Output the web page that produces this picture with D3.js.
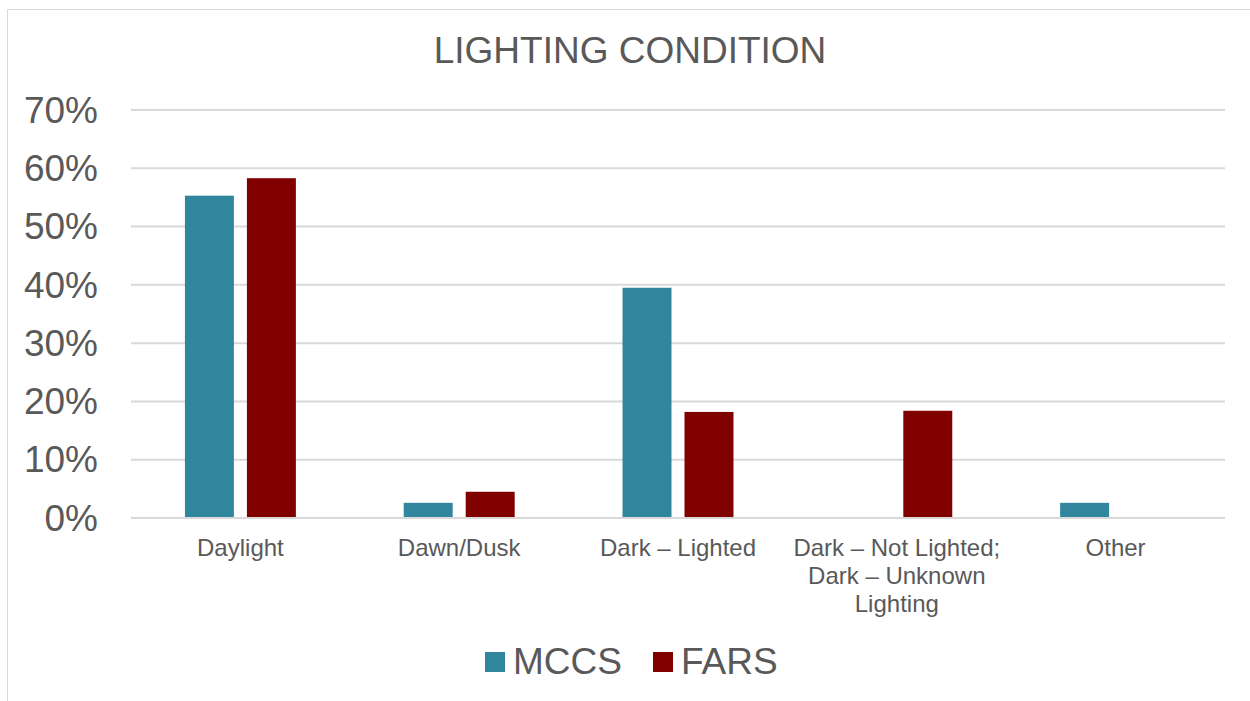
<!DOCTYPE html>
<html>
<head>
<meta charset="utf-8">
<script src="https://cdn.jsdelivr.net/npm/d3@7"></script>
<style>
  body { margin: 0; background: #fff; }
  text { font-family: "Liberation Sans", Arial, sans-serif; fill: #595959; }
</style>
</head>
<body>
<div id="chart"></div>
<script>
const categories = ["Daylight", "Dawn/Dusk", "Dark – Lighted", "Dark – Not Lighted;|Dark – Unknown|Lighting", "Other"];
const seriesNames = ["MCCS", "FARS"];
const mccsValues = [55.3, 2.6, 39.5, 0, 2.6];
const farsValues = [58.3, 4.5, 18.2, 18.4, 0];
const yTicks = [0, 10, 20, 30, 40, 50, 60, 70];
const colors = ["#31859C", "#800000"];

const width = 1250, height = 701;
const margin = {top: 110, right: 25, bottom: 183, left: 131};

const svg = d3.select("#chart").append("svg")
  .attr("width", width)
  .attr("height", height);

// outer chart border
svg.append("rect")
  .attr("x", 7.5).attr("y", 9.5)
  .attr("width", 1260).attr("height", 720)
  .attr("fill", "none")
  .attr("stroke", "#d9d9d9");

svg.append("text")
  .attr("x", 630).attr("y", 63)
  .attr("text-anchor", "middle")
  .style("font-size", "37px")
  .text("LIGHTING CONDITION");

const xScale = d3.scaleBand()
  .domain(categories)
  .range([margin.left, width - margin.right]);

const yScale = d3.scaleLinear()
  .domain([0, 70])
  .range([height - margin.bottom, margin.top]);

const xSub = d3.scaleBand()
  .domain(seriesNames)
  .range([0, xScale.bandwidth()])
  .paddingInner(0.21)
  .paddingOuter(0.87);

// gridlines
svg.append("g").selectAll("line")
  .data(yTicks)
  .join("line")
  .attr("x1", margin.left).attr("x2", width - margin.right)
  .attr("y1", d => yScale(d)).attr("y2", d => yScale(d))
  .attr("stroke", "#d9d9d9")
  .attr("stroke-width", 2);

// y axis
const yAxis = d3.axisLeft(yScale).tickValues(yTicks).tickFormat(d => d + "%").tickSize(0).tickPadding(33);
svg.append("g")
  .attr("transform", "translate(" + margin.left + ",0)")
  .call(yAxis)
  .call(g => g.select(".domain").remove())
  .call(g => g.selectAll("text").style("font-size", "37px").attr("dy", "0.33em").attr("fill", "#595959").attr("font-family", "Liberation Sans, Arial, sans-serif"));

const rows = categories.map((c, i) => ({cat: c, vals: [mccsValues[i], farsValues[i]]}));

const groups = svg.append("g").selectAll("g")
  .data(rows)
  .join("g")
  .attr("transform", d => "translate(" + xScale(d.cat) + ",0)");

groups.selectAll("rect")
  .data(d => d.vals.map((v, j) => ({name: seriesNames[j], v: v, j: j})).filter(e => e.v > 0))
  .join("rect")
  .attr("x", e => xSub(e.name))
  .attr("width", xSub.bandwidth())
  .attr("y", e => yScale(e.v))
  .attr("height", e => yScale(0) - yScale(e.v))
  .attr("fill", e => colors[e.j]);

// redraw the baseline over bars
svg.append("line")
  .attr("x1", margin.left).attr("x2", width - margin.right)
  .attr("y1", yScale(0)).attr("y2", yScale(0))
  .attr("stroke", "#d9d9d9").attr("stroke-width", 2);

// category labels
const labels = svg.append("g").selectAll("text")
  .data(categories)
  .join("text")
  .attr("text-anchor", "middle")
  .attr("y", yScale(0) + 38)
  .style("font-size", "24px");
labels.selectAll("tspan")
  .data(d => d.split("|").map(t => ({t: t, c: d})))
  .join("tspan")
  .attr("x", d => xScale(d.c) + xScale.bandwidth() / 2)
  .attr("dy", (d, i) => i === 0 ? 0 : 28)
  .text(d => d.t);

// legend
const legendItems = [{name: "MCCS", x: 485}, {name: "FARS", x: 653}];
const legend = svg.append("g").selectAll("g")
  .data(legendItems)
  .join("g")
  .attr("transform", d => "translate(" + d.x + ",652)");
legend.append("rect")
  .attr("width", 20).attr("height", 20)
  .attr("fill", (d, i) => colors[i]);
legend.append("text")
  .attr("x", 28).attr("y", 22)
  .style("font-size", "37px")
  .text(d => d.name);
</script>
</body>
</html>
